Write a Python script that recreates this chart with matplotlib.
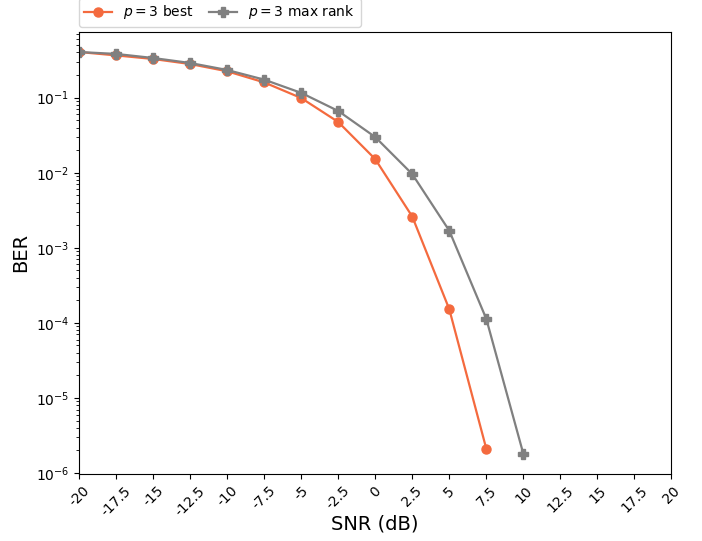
import numpy as np
import matplotlib
matplotlib.use("Agg")
from matplotlib import pyplot as plt

snr = [-20, -17.5, -15, -12.5, -10, -7.5, -5, -2.5, 0, 2.5, 5, 7.5, 10]
ber_best = [0.406, 0.366, 0.328, 0.281, 0.225, 0.160, 0.099, 0.0475, 0.0152, 0.00261, 1.52e-4, 2.1e-6]
ber_rank = [0.406, 0.383, 0.338, 0.290, 0.234, 0.174, 0.116, 0.0666, 0.0299, 0.0096, 0.00169, 1.13e-4, 1.8e-6]
xticks = np.arange(-20, 20.1, 2.5)
# plain hyphens like the original labels
xlabels = ["%g" % t for t in xticks]

fig = plt.figure(figsize=(7.02, 5.41), dpi=100)
ax = fig.add_axes([0.1125, 0.124, 0.844, 0.817])

ax.plot(snr[:len(ber_best)], ber_best, "-o", color="#f46a3e", markersize=6.5, linewidth=1.6, label="$p=3$ best")
ax.plot(snr, ber_rank, "-P", color="#808080", markersize=7.5, linewidth=1.6, label="$p=3$ max rank")
ax.set_yscale("log")
ax.set_xlim(-20, 20)
ax.set_xticks(xticks)
ax.set_xticklabels(xlabels, rotation=45)
ax.set_xlabel("SNR (dB)", fontsize=14, labelpad=-3)
ax.set_ylabel("BER", fontsize=14)
ax.legend(loc="lower left", bbox_to_anchor=(-0.005, 1.005), ncol=2, fontsize=10,
          borderaxespad=0.2, columnspacing=1.1)

fig.savefig("out.png", dpi=100)
